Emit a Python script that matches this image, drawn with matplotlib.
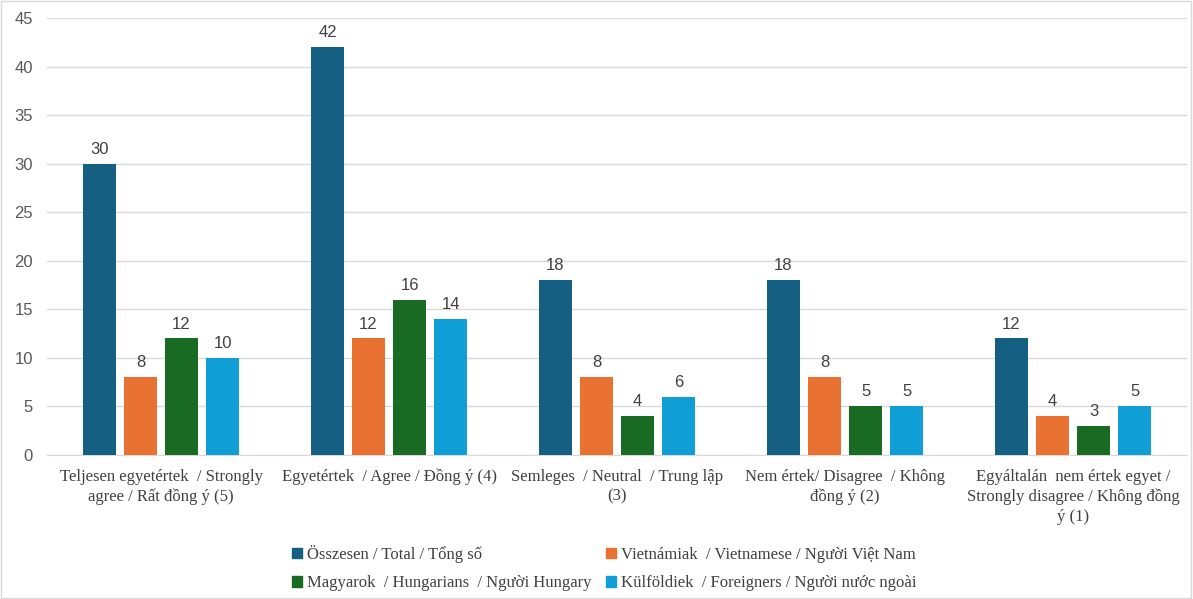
import numpy as np
import matplotlib.pyplot as plt
from matplotlib.patches import Patch, Rectangle

categories = [
    "Teljesen egyetértek  / Strongly\nagree / Rất đồng ý (5)",
    "Egyetértek  / Agree / Đồng ý (4)",
    "Semleges  / Neutral  / Trung lập\n(3)",
    "Nem értek/ Disagree  / Không\nđồng ý (2)",
    "Egyáltalán  nem értek egyet /\nStrongly disagree / Không đồng\ný (1)",
]
series_names = [
    "Összesen / Total / Tổng số",
    "Vietnámiak  / Vietnamese / Người Việt Nam",
    "Magyarok  / Hungarians  / Người Hungary",
    "Külföldiek  / Foreigners / Người nước ngoài",
]
total = [30, 42, 18, 18, 12]
vietnamese = [8, 12, 8, 8, 4]
hungarians = [12, 16, 4, 5, 3]
foreigners = [10, 14, 6, 5, 5]
colors = ["#156082", "#E97132", "#196B24", "#0F9ED5"]

serif = ["Liberation Serif", "DejaVu Serif"]
sans = ["Liberation Sans", "DejaVu Sans"]

fig = plt.figure(figsize=(11.93, 5.99), dpi=100)
ax = fig.add_axes([47 / 1193, 1 - 455 / 599, 1140 / 1193, 437 / 599])

x = np.arange(len(categories))
step = 0.18
width = 0.146
data = [total, vietnamese, hungarians, foreigners]
for i, (vals, col, name) in enumerate(zip(data, colors, series_names)):
    pos = x + (i - 1.5) * step
    bars = ax.bar(pos, vals, width, color=col, label=name, zorder=3)
    for b, v in zip(bars, vals):
        ax.annotate(str(v), (b.get_x() + b.get_width() / 2, v),
                    xytext=(0, 5), textcoords="offset points",
                    ha="center", va="bottom", fontsize=12,
                    family=sans, color="#404040")

ax.set_xlim(-0.5, len(categories) - 0.5)
ax.set_ylim(0, 45)
ax.set_yticks(range(0, 46, 5))
ax.yaxis.grid(True, color="#D9D9D9", lw=1, zorder=0)
ax.set_axisbelow(True)
for s in ["top", "right", "left"]:
    ax.spines[s].set_visible(False)
ax.spines["bottom"].set_color("#D9D9D9")
ax.tick_params(axis="both", length=0)
ax.tick_params(axis="y", labelsize=12, labelcolor="#595959", pad=10)
for t in ax.get_yticklabels():
    t.set_family(sans)
ax.set_xticks(x)
ax.set_xticklabels(categories, fontsize=12, family=serif, color="#404040",
                   linespacing=1.3)
ax.tick_params(axis="x", pad=10)

# legend fills column-major, reorder so rows read Total, Vietnamese / Hungarians, Foreigners
order = [0, 2, 1, 3]
handles = [Patch(color=colors[k]) for k in order]
labels = [series_names[k] for k in order]
fig.legend(handles, labels, loc="center", ncol=2,
           bbox_to_anchor=(604 / 1193, 1 - 568 / 599), frameon=False,
           prop={"family": serif, "size": 12}, labelcolor="#404040",
           handlelength=0.6, handleheight=0.6, handletextpad=0.3,
           columnspacing=0.9, labelspacing=0.75)

fig.patches.append(Rectangle((0.001, 0.001), 0.997, 0.997, transform=fig.transFigure,
                             fill=False, edgecolor="#D9D9D9", lw=1))

fig.savefig("out.png", dpi=100)
